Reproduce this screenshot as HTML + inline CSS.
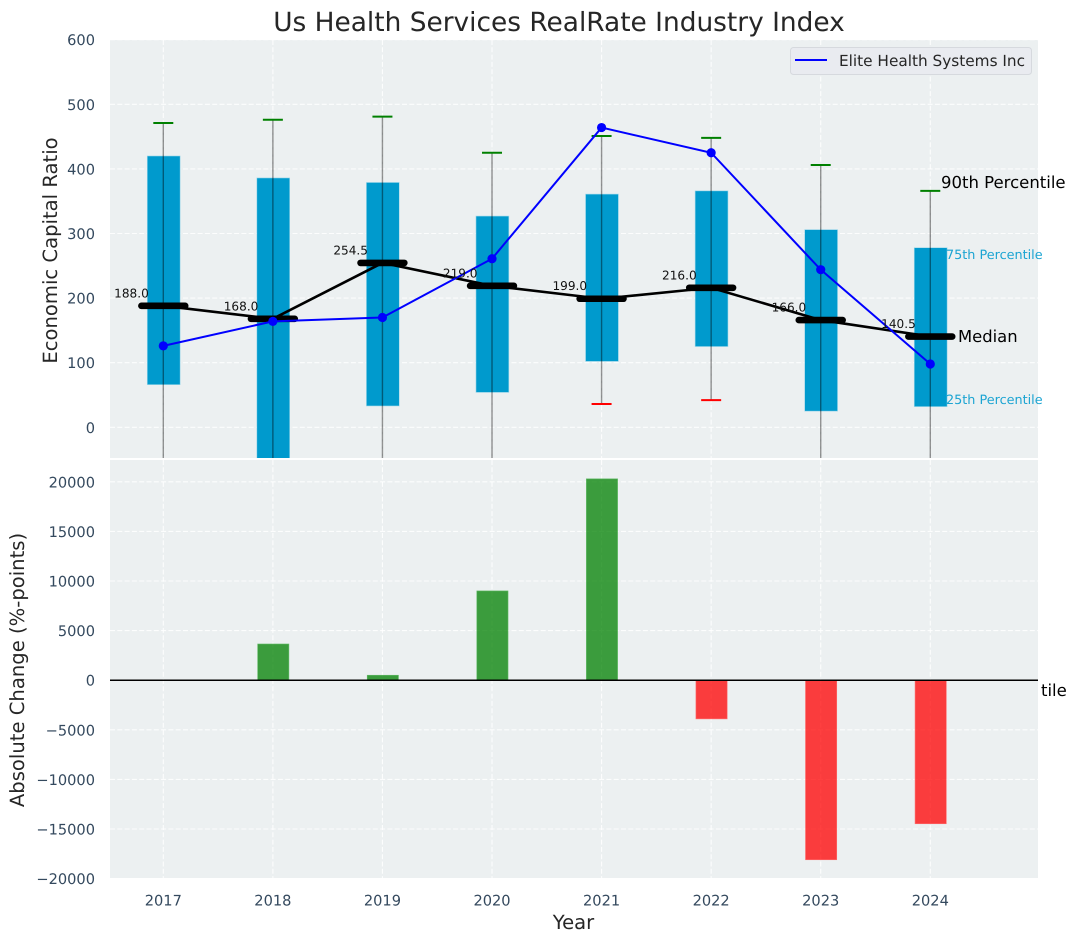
<!DOCTYPE html>
<html lang="en">
<head>
<meta charset="utf-8">
<title>Us Health Services RealRate Industry Index</title>
<style>
html,body{margin:0;padding:0;background:#fff;width:1076px;height:942px;overflow:hidden}
svg{display:block;font-family:"DejaVu Sans","Liberation Sans",sans-serif;text-rendering:geometricPrecision}
</style>
</head>
<body>
<svg id="chart" xmlns="http://www.w3.org/2000/svg" width="1076" height="942" viewBox="0 0 1076 942">
  <defs>
    <clipPath id="upper-clip"><rect x="110" y="40" width="928" height="418"/></clipPath>
    <clipPath id="lower-clip"><rect x="110" y="460" width="928" height="418"/></clipPath>
  </defs>
  <rect x="110" y="40" width="928" height="418" fill="#ecf0f1"/>
  <rect x="110" y="460" width="928" height="418" fill="#ecf0f1"/>
  <g id="upper-grid" clip-path="url(#upper-clip)"></g>
  <g id="lower-grid" clip-path="url(#lower-clip)"></g>
  <g id="upper-marks" clip-path="url(#upper-clip)"></g>
  <g id="lower-marks" clip-path="url(#lower-clip)"></g>
  <g id="labels"></g>
  <g id="ticks" fill="#34495e" font-size="14.6"></g>

  <text x="559" y="31" text-anchor="middle" font-size="26.4" fill="#262626">Us Health Services RealRate Industry Index</text>
  <text transform="translate(57 250.5) rotate(-90)" text-anchor="middle" font-size="19.6" fill="#262626">Economic Capital Ratio</text>
  <text transform="translate(24 670) rotate(-90)" text-anchor="middle" font-size="19.6" fill="#262626">Absolute Change (%-points)</text>
  <text x="573.5" y="929" text-anchor="middle" font-size="19.6" fill="#262626">Year</text>

  <g>
    <rect x="790.5" y="47.5" width="241" height="27" rx="3" fill="#e9ebf0" stroke="#d6d9de" stroke-width="1"/>
    <line x1="795" y1="60" x2="827" y2="60" stroke="#0000ff" stroke-width="2"/>
    <text x="839" y="66" font-size="15.3" fill="#262626">Elite Health Systems Inc</text>
  </g>

  <text x="941" y="188" font-size="16.5" fill="#000">90th Percentile</text>
  <text x="958" y="342" font-size="16.4" fill="#000">Median</text>
  <text x="946" y="259" font-size="12.8" fill="#1ba4d2">75th Percentile</text>
  <text x="946" y="404" font-size="12.8" fill="#1ba4d2">25th Percentile</text>
  <text x="1041" y="696" font-size="16.5" fill="#000">tile</text>
</svg>
<script>
const years = [2017, 2018, 2019, 2020, 2021, 2022, 2023, 2024];
const p90 = [471, 476, 481, 425, 451, 448, 406, 366];
const p75 = [420, 386, 379, 327, 361, 366, 306, 278];
const medians = [188.0, 168.0, 254.5, 219.0, 199.0, 216.0, 166.0, 140.5];
const p25 = [66, -60, 33, 54, 102, 125, 25, 32];
const p10 = [-110, -150, -100, -90, 36, 42, -80, -95];
const companyValues = [126, 164, 170, 261, 464, 425, 244, 98];
const absoluteChange = [0, 3650, 500, 9000, 20300, -3900, -18100, -14470];
const upperTicks = [0, 100, 200, 300, 400, 500, 600];
const lowerTicks = [-20000, -15000, -10000, -5000, 0, 5000, 10000, 15000, 20000];

const SVG_NS = 'http://www.w3.org/2000/svg';
const X_PER_YEAR = 109.57;
const X_AT_FIRST = 163.3;
const boxWidthYears = 0.3;
const barWidthYears = 0.285;
const capHalfPx = 10;
const medianHalfYears = 0.2;

function xAxis(year) {
  return X_AT_FIRST + (year - 2017) * X_PER_YEAR;
}
function yUpper(value) {
  return 427.3 - value * 0.646;
}
function yLower(value) {
  return 680.2 - value * 0.00992;
}
function make(tag, parent, attrs) {
  const el = document.createElementNS(SVG_NS, tag);
  for (const key in attrs) el.setAttribute(key, attrs[key]);
  parent.appendChild(el);
  return el;
}
function formatTick(value) {
  return value < 0 ? '\u2212' + Math.abs(value) : String(value);
}

const upperGrid = document.getElementById('upper-grid');
const lowerGrid = document.getElementById('lower-grid');
const upperMarks = document.getElementById('upper-marks');
const lowerMarks = document.getElementById('lower-marks');
const labelLayer = document.getElementById('labels');
const tickLayer = document.getElementById('ticks');
const gridStyle = { stroke: '#ffffff', 'stroke-opacity': 0.85, 'stroke-width': 1.1, 'stroke-dasharray': '5 2.3' };

upperTicks.forEach(function (tick) {
  const y = yUpper(tick);
  const line = make('line', upperGrid, Object.assign({ x1: 110, x2: 1038, y1: y, y2: y }, gridStyle));
  
  
  const label = make('text', tickLayer, { x: 95, y: y + 5.5, 'text-anchor': 'end' });
  label.textContent = formatTick(tick);
  
  
});

lowerTicks.forEach(function (tick) {
  const y = yLower(tick);
  const line = make('line', lowerGrid, Object.assign({ x1: 110, x2: 1038, y1: y, y2: y }, gridStyle));
  
  
  const label = make('text', tickLayer, { x: 95, y: y + 5.5, 'text-anchor': 'end' });
  label.textContent = formatTick(tick);
  
  
});

years.forEach(function (year) {
  const x = xAxis(year);
  const upperLine = make('line', upperGrid, Object.assign({ x1: x, x2: x, y1: 40, y2: 458 }, gridStyle));
  
  
  const lowerLine = make('line', lowerGrid, Object.assign({ x1: x, x2: x, y1: 460, y2: 878 }, gridStyle));
  
  
  const label = make('text', tickLayer, { x: x, y: 905.5, 'text-anchor': 'middle' });
  label.textContent = String(year);
  
  
});

/* Interquartile boxes */
years.forEach(function (year, i) {
  const halfPx = boxWidthYears * X_PER_YEAR / 2;
  const top = yUpper(p75[i]);
  const box = make('rect', upperMarks, {
    x: xAxis(year) - halfPx + 0.4,
    y: top,
    width: halfPx * 2,
    height: yUpper(p25[i]) - top,
    fill: '#009acd',
    stroke: '#9fd8ea',
    'stroke-width': 0.6
  });
  
  
});

/* Whiskers and caps */
years.forEach(function (year, i) {
  const x = xAxis(year);
  const whisker = make('line', upperMarks, {
    x1: x, x2: x, y1: yUpper(p90[i]), y2: yUpper(p10[i]),
    stroke: '#000000', 'stroke-opacity': 0.42, 'stroke-width': 1.4
  });
  
  
  const capTop = make('line', upperMarks, {
    x1: x - capHalfPx, x2: x + capHalfPx, y1: yUpper(p90[i]), y2: yUpper(p90[i]),
    stroke: '#008000', 'stroke-width': 2
  });
  
  
  const capLow = make('line', upperMarks, {
    x1: x - capHalfPx, x2: x + capHalfPx, y1: yUpper(p10[i]), y2: yUpper(p10[i]),
    stroke: '#ff0000', 'stroke-width': 2
  });
  
  
});

/* Median trend line */
const medianPoints = years.map(function (year, i) {
  return xAxis(year) + ',' + yUpper(medians[i]);
}).join(' ');
const medianTrend = make('polyline', upperMarks, {
  points: medianPoints, fill: 'none', stroke: '#000000', 'stroke-width': 2.6
});



/* Median bars and labels */
years.forEach(function (year, i) {
  const x = xAxis(year);
  const y = yUpper(medians[i]);
  const halfPx = medianHalfYears * X_PER_YEAR;
  const bar = make('line', upperMarks, {
    x1: x - halfPx, x2: x + halfPx, y1: y, y2: y,
    stroke: '#000000', 'stroke-width': 6.6, 'stroke-linecap': 'round'
  });
  
  
  const label = make('text', labelLayer, {
    x: x - 14.5, y: y - 8.5, 'text-anchor': 'end', 'font-size': 12.1, fill: '#111111'
  });
  label.textContent = medians[i].toFixed(1);
  
  
});

/* Company series */
const companyPoints = years.map(function (year, i) {
  return xAxis(year) + ',' + yUpper(companyValues[i]);
}).join(' ');
const companyLine = make('polyline', upperMarks, {
  points: companyPoints, fill: 'none', stroke: '#0000ff', 'stroke-width': 2
});


years.forEach(function (year, i) {
  const dot = make('circle', upperMarks, {
    cx: xAxis(year), cy: yUpper(companyValues[i]), r: 4.6, fill: '#0000ff'
  });
  
  
});

/* Absolute change bars */
years.forEach(function (year, i) {
  const value = absoluteChange[i];
  if (value === 0) return;
  const halfPx = barWidthYears * X_PER_YEAR / 2;
  const y0 = yLower(0);
  const y1 = yLower(value);
  const positive = value > 0;
  const bar = make('rect', lowerMarks, {
    x: xAxis(year) - halfPx + 0.4,
    y: Math.min(y0, y1),
    width: halfPx * 2,
    height: Math.abs(y1 - y0),
    fill: positive ? '#008000' : '#ff0000',
    'fill-opacity': 0.75,
    stroke: positive ? '#63bb67' : '#ff6d6d',
    'stroke-width': 0.6
  });
  
  
});

const zeroLine = make('line', lowerMarks, {
  x1: 110, x2: 1038, y1: yLower(0), y2: yLower(0), stroke: '#000000', 'stroke-width': 1.5
});


</script>
</body>
</html>
